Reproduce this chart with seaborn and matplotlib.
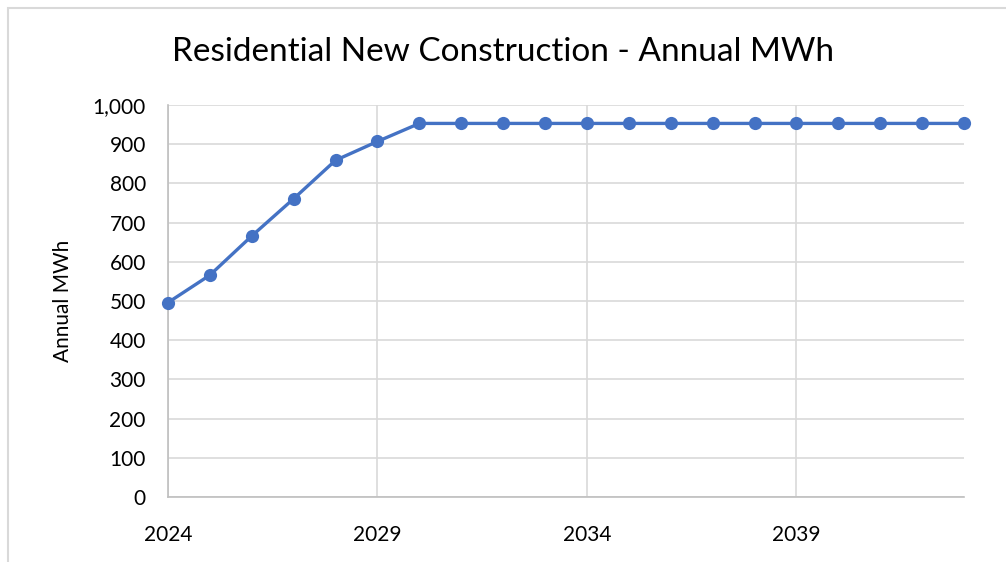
import matplotlib
matplotlib.use("Agg")
import matplotlib.pyplot as plt
import seaborn as sns
import pandas as pd
from matplotlib.ticker import FuncFormatter, MultipleLocator, FixedLocator
from matplotlib.patches import Rectangle

years = list(range(2024, 2044))
mwh = [496, 566, 666, 761, 859, 907, 953, 953, 953, 953, 953, 953, 953, 953, 953, 953, 953, 953, 953, 953]
xticks = [2024, 2029, 2034, 2039]
title = "Residential New Construction - Annual MWh"
ylabel = "Annual MWh"

sns.set_theme(style="white")
plt.rcParams['font.family'] = ['Lato', 'DejaVu Sans']

df = pd.DataFrame({"Year": years, "MWh": mwh})

fig = plt.figure(figsize=(10.06, 5.62), dpi=100)
ax = fig.add_axes([168/1006, 1-497/562, (964-168)/1006, (497-105)/562])

sns.lineplot(data=df, x="Year", y="MWh", ax=ax, color="#4472C4", linewidth=2.4,
             marker="o", markersize=9.5, markeredgewidth=0, zorder=3, clip_on=False)

ax.set_xlim(2024, 2043)
ax.set_ylim(0, 1000)
ax.xaxis.set_major_locator(FixedLocator(xticks))
ax.yaxis.set_major_locator(MultipleLocator(100))
ax.yaxis.set_major_formatter(FuncFormatter(lambda v, p: f"{int(v):,}"))
ax.grid(True, color="#D9D9D9", linewidth=1.2)
ax.set_axisbelow(True)
for s in ["top", "right"]:
    ax.spines[s].set_visible(False)
for s in ["left", "bottom"]:
    ax.spines[s].set_color("#BFBFBF")
    ax.spines[s].set_linewidth(1.2)
ax.tick_params(axis="both", length=0, labelsize=15, colors="#000000")
ax.tick_params(axis="x", pad=20)
ax.tick_params(axis="y", pad=16)
ax.set_xlabel("")
ax.set_ylabel(ylabel, fontsize=15, labelpad=14, color="#000000")
fig.suptitle(title, fontsize=24, y=1-52/562, va="center", color="#000000")

fig.patches.append(Rectangle((8/1006, -0.01), 1.02, 1-8/562 + 0.01, transform=fig.transFigure,
                             fill=False, edgecolor="#D9D9D9", linewidth=1.5))

fig.savefig("out.png", dpi=100)
